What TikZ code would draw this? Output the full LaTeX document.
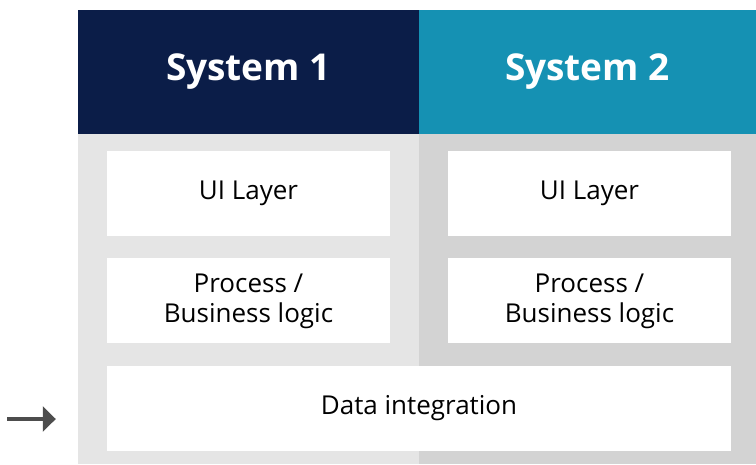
\documentclass[tikz,border=0pt]{standalone}
\usepackage{fontspec}
\setmainfont{Open Sans}
\definecolor{HeadNavy}{RGB}{11,29,72}
\definecolor{HeadTeal}{RGB}{21,145,179}
\definecolor{BodyLight}{RGB}{229,229,229}
\definecolor{BodyDark}{RGB}{211,211,211}
\definecolor{ArrowGray}{RGB}{77,77,77}
\usetikzlibrary{positioning, arrows.meta}

\begin{document}
\begin{tikzpicture}[
    x=1pt, y=-1pt,
    every node/.style={
        inner sep=0pt,
        align=center,
        font=\fontsize{26}{30}\selectfont
    },
    node distance=22pt,
    header/.style={minimum height=124pt, text=white, font=\fontsize{37}{42}\selectfont\bfseries},
    layer/.style={fill=white, minimum width=283pt, minimum height=85pt},
    flow/.style={draw=ArrowGray, line width=4.5pt, -{Triangle[length=13pt, width=25pt]}}
]
\useasboundingbox (0,0) rectangle (756,464);

% Column backgrounds
\fill[BodyLight] (78,134) rectangle (419,464);
\fill[BodyDark] (419,134) rectangle (756,464);

% Headers
\node[header, fill=HeadNavy, minimum width=341pt] (head1) at (248.5,72) {System 1};
\node[header, fill=HeadTeal, minimum width=337pt] (head2) at (587.5,72) {System 2};

% Layers
\node[layer] (ui1) at (248.5,193.5) {UI Layer};
\node[layer] (ui2) at (589.5,193.5) {UI Layer};
\node[layer] (proc1) [below=of ui1] {Process /\\Business logic};
\node[layer] (proc2) [below=of ui2] {Process /\\Business logic};
\node[layer, minimum width=624pt] (data) at (419,408.5) {Data integration};

% Incoming arrow
\coordinate (feed) at (7,419);
\draw[flow] (feed) -- ([xshift=-51pt, yshift=-10.5pt]data.west);
\end{tikzpicture}
\end{document}
